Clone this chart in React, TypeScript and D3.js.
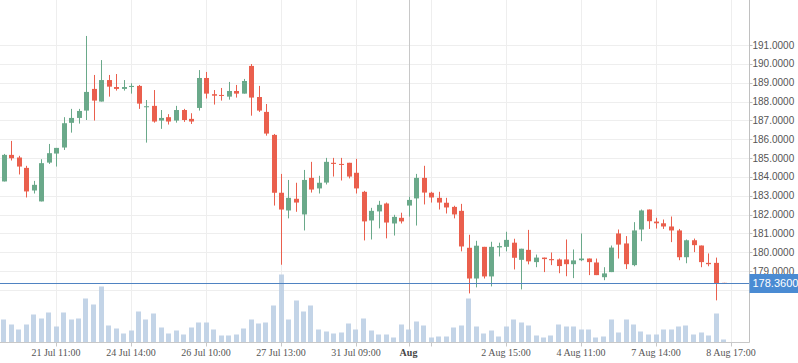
import React, { useEffect, useRef } from "react";
import * as d3 from "d3";

// OHLC per candle (index based, weekends skipped)
const opens = [
  183.76, 185.17, 185.03, 184.48, 183.28, 182.70, 184.76, 185.24, 185.56, 186.87,
  187.13, 187.52, 188.67, 188.00, 189.14, 188.77, 188.67, 188.77, 188.83, 187.71,
  187.77, 186.99, 187.17, 186.99, 187.55, 187.08, 187.66, 189.25, 188.39, 188.35,
  188.26, 188.56, 188.42, 189.89, 188.24, 187.45, 186.23, 183.16, 182.22, 182.84,
  182.01, 183.95, 183.39, 183.70, 184.75, 184.69, 184.75, 184.22, 183.21, 181.69,
  182.17, 182.59, 181.53, 181.83, 182.48, 182.86, 183.95, 183.16, 182.89, 182.63,
  182.41, 182.20, 180.24, 178.61, 180.29, 178.72, 180.26, 180.29, 180.51, 179.60,
  180.13, 179.48, 179.72, 179.64, 179.62, 179.62, 179.37, 179.58, 179.67, 179.46,
  178.68, 178.95, 181.00, 180.47, 179.32, 181.21, 182.27, 181.63, 181.54, 181.37,
  181.16, 179.74, 180.64, 180.36, 179.44, 179.44, 178.38,
];
const highs = [
  185.22, 185.91, 185.12, 184.59, 183.79, 184.94, 185.75, 185.54, 187.17, 187.61,
  187.61, 191.48, 189.41, 190.20, 189.41, 189.46, 189.14, 188.97, 188.88, 188.08,
  188.61, 187.55, 187.33, 187.77, 187.61, 187.38, 189.67, 189.57, 188.61, 188.72,
  189.04, 188.88, 189.20, 189.99, 188.83, 187.87, 186.28, 184.16, 183.84, 183.69,
  184.37, 184.80, 184.06, 185.01, 185.01, 185.01, 184.75, 184.96, 183.26, 182.36,
  182.73, 182.64, 181.99, 182.10, 182.94, 184.16, 184.59, 183.21, 183.21, 182.89,
  182.47, 182.57, 180.93, 180.61, 180.29, 180.56, 180.51, 181.09, 180.72, 180.19,
  181.19, 179.88, 179.72, 179.99, 179.67, 180.68, 180.15, 181.00, 179.67, 179.67,
  179.21, 180.36, 181.21, 180.86, 181.60, 182.27, 182.27, 181.83, 181.74, 181.90,
  181.24, 180.68, 180.73, 180.36, 179.94, 179.72, 178.38,
];
const lows = [
  183.76, 184.87, 184.13, 182.91, 183.12, 182.70, 184.69, 184.55, 185.43, 186.35,
  186.83, 187.02, 186.99, 188.00, 188.26, 188.58, 188.58, 188.42, 187.61, 185.82,
  186.88, 186.55, 186.78, 186.88, 186.92, 186.81, 187.52, 188.16, 187.84, 188.05,
  188.10, 188.21, 188.42, 187.25, 187.45, 186.19, 182.48, 179.34, 181.80, 182.15,
  181.16, 183.17, 183.12, 183.60, 184.02, 183.81, 183.92, 183.12, 180.63, 180.68,
  181.27, 180.74, 180.89, 181.53, 181.90, 181.42, 182.54, 182.64, 182.27, 182.06,
  181.80, 180.05, 177.82, 178.14, 178.61, 178.19, 179.78, 180.05, 179.09, 178.03,
  179.36, 179.21, 178.95, 179.32, 178.89, 178.73, 178.63, 179.53, 178.79, 178.79,
  178.52, 178.95, 179.67, 179.11, 179.26, 180.59, 181.24, 181.26, 181.24, 180.54,
  179.58, 179.42, 180.01, 179.21, 179.26, 177.45, 178.36,
];
const closes = [
  185.17, 184.99, 184.55, 183.23, 183.58, 184.73, 185.26, 185.54, 186.85, 187.13,
  187.50, 188.51, 188.05, 189.14, 188.79, 188.67, 188.77, 188.83, 187.89, 187.75,
  186.94, 187.13, 186.94, 187.55, 187.02, 186.94, 189.25, 188.42, 188.31, 188.30,
  188.56, 188.42, 189.09, 188.21, 187.52, 186.30, 183.16, 182.27, 182.89, 182.64,
  183.84, 183.33, 183.69, 184.80, 184.69, 184.66, 184.02, 183.39, 181.64, 182.20,
  182.52, 181.58, 181.88, 181.64, 182.78, 183.95, 183.17, 182.91, 182.64, 182.38,
  182.01, 180.31, 178.61, 180.35, 178.72, 180.29, 180.33, 180.66, 179.71, 180.19,
  179.52, 179.72, 179.64, 179.58, 179.27, 179.37, 179.57, 179.67, 179.48, 178.79,
  178.88, 180.25, 180.41, 179.37, 181.16, 182.22, 181.65, 181.54, 181.37, 181.16,
  179.74, 180.64, 180.38, 179.48, 179.37, 178.33, 178.36,
];
const volumes = [
  23, 18, 13, 18, 28, 24, 30, 16, 30, 23,
  24, 44, 38, 56, 17, 14, 9, 12, 31, 23,
  29, 15, 9, 12, 8, 15, 20, 20, 13, 7,
  7, 8, 14, 23, 19, 20, 37, 68, 23, 42,
  31, 37, 13, 11, 9, 10, 19, 13, 24, 12,
  8, 8, 5, 18, 13, 21, 17, 5, 6, 6,
  15, 17, 44, 16, 9, 12, 6, 16, 23, 20,
  17, 7, 5, 7, 18, 16, 16, 13, 13, 5,
  6, 23, 10, 23, 18, 11, 8, 8, 13, 13,
  16, 17, 8, 10, 7, 29, 3,
];

// x axis: grid every 10 candles, labels at the candle index
const gridIdx = [7, 17, 27, 37, 47, 57, 67, 77, 87, 97];
const labelIdx = [7, 17, 27, 37, 47, 67, 77, 87, 97];
const labelText = ["21 Jul 11:00", "24 Jul 14:00", "26 Jul 10:00", "27 Jul 13:00", "31 Jul 09:00",
  "2 Aug 15:00", "4 Aug 11:00", "7 Aug 14:00", "8 Aug 17:00"];
const monthIdx = 54;
const monthText = "Aug";

const priceTicks = d3.range(179, 192);
const gridPrices = d3.range(178, 192);
const lastPrice = 178.36;

const W = 798;
const H = 363;
const axisX = 749.5;
const axisY = 342.5;
const UP = "#6aa98a";
const DOWN = "#ea5f4d";

function CandleChart() {
  const ref = useRef<SVGSVGElement>(null);

  useEffect(() => {
    const svg = d3.select(ref.current);
    svg.selectAll("*").remove();

    const x = d3.scaleLinear().domain([0, 96]).range([3.5, 723.5]);
    const y = d3.scaleLinear().domain([178, 191]).range([290, 45]);
    const yVol = d3.scaleLinear().domain([0, 100]).range([axisY, axisY - 100]);

    // grid
    svg.append("g").selectAll("line").data(gridPrices).enter().append("line")
      .attr("x1", 0).attr("x2", axisX)
      .attr("y1", d => Math.round(y(d)) + 0.5).attr("y2", d => Math.round(y(d)) + 0.5)
      .attr("stroke", "#eeeeee");
    svg.append("g").selectAll("line").data(gridIdx).enter().append("line")
      .attr("x1", d => Math.round(x(d)) + 0.5).attr("x2", d => Math.round(x(d)) + 0.5)
      .attr("y1", 0).attr("y2", axisY)
      .attr("stroke", "#eeeeee");

    // month separator
    svg.append("line")
      .attr("x1", Math.round(x(monthIdx)) + 0.5).attr("x2", Math.round(x(monthIdx)) + 0.5)
      .attr("y1", 0).attr("y2", axisY + 4)
      .attr("stroke", "#c8c8c8");

    // volume
    svg.append("g").selectAll("rect").data(volumes).enter().append("rect")
      .attr("x", (d, i) => Math.round(x(i) - 2.5))
      .attr("y", d => yVol(d))
      .attr("width", 5)
      .attr("height", d => axisY - yVol(d))
      .attr("fill", "#b9cde3")
      .attr("opacity", 0.85);

    // candles
    const idx = d3.range(opens.length);
    const g = svg.append("g");
    g.selectAll("line").data(idx).enter().append("line")
      .attr("x1", i => Math.round(x(i)) + 0.5).attr("x2", i => Math.round(x(i)) + 0.5)
      .attr("y1", i => y(highs[i])).attr("y2", i => y(lows[i]))
      .attr("stroke", i => (closes[i] >= opens[i] ? UP : DOWN));
    g.selectAll("rect").data(idx).enter().append("rect")
      .attr("x", i => Math.round(x(i)) - 2)
      .attr("width", 5)
      .attr("y", i => y(Math.max(opens[i], closes[i])))
      .attr("height", i => Math.max(1, Math.abs(y(opens[i]) - y(closes[i]))))
      .attr("fill", i => (closes[i] >= opens[i] ? UP : DOWN));

    // last price line
    const py = Math.round(y(lastPrice)) + 0.5;
    svg.append("line")
      .attr("x1", 0).attr("x2", axisX).attr("y1", py).attr("y2", py)
      .attr("stroke", "#4f83c2");

    // bottom axis
    svg.append("line")
      .attr("x1", 0).attr("x2", axisX).attr("y1", axisY).attr("y2", axisY)
      .attr("stroke", "#c8c8c8");
    svg.append("g").selectAll("line").data(gridIdx).enter().append("line")
      .attr("x1", d => Math.round(x(d)) + 0.5).attr("x2", d => Math.round(x(d)) + 0.5)
      .attr("y1", axisY).attr("y2", axisY + 4)
      .attr("stroke", "#c8c8c8");
    svg.append("g").selectAll("text").data(labelIdx).enter().append("text")
      .attr("x", d => x(d))
      .attr("y", 356)
      .attr("text-anchor", "middle")
      .style("font-family", "'Liberation Serif', serif")
      .style("font-size", "10px")
      .attr("fill", "#555")
      .text((d, i) => labelText[i]);
    svg.append("text")
      .attr("x", x(monthIdx)).attr("y", 356)
      .attr("text-anchor", "middle")
      .style("font-family", "'Liberation Serif', serif")
      .style("font-size", "10px")
      .style("font-weight", "bold")
      .attr("fill", "#444")
      .text(monthText);

    // right axis
    svg.append("line")
      .attr("x1", axisX).attr("x2", axisX).attr("y1", 0).attr("y2", axisY)
      .attr("stroke", "#c0c0c0");
    svg.append("g").selectAll("line").data(priceTicks).enter().append("line")
      .attr("x1", axisX).attr("x2", axisX + 3)
      .attr("y1", d => Math.round(y(d)) + 0.5).attr("y2", d => Math.round(y(d)) + 0.5)
      .attr("stroke", "#c0c0c0");
    svg.append("g").selectAll("text").data(priceTicks).enter().append("text")
      .attr("x", axisX + 3)
      .attr("y", d => y(d))
      .attr("dy", "0.35em")
      .style("font-family", "'Liberation Sans', sans-serif")
      .style("font-size", "10px")
      .attr("fill", "#555")
      .text(d => d3.format(".4f")(d));

    // last price badge
    svg.append("rect")
      .attr("x", axisX).attr("y", py - 9.5)
      .attr("width", W - axisX).attr("height", 19)
      .attr("fill", "#4a8bd3");
    svg.append("text")
      .attr("x", axisX + 3).attr("y", py)
      .attr("dy", "0.35em")
      .style("font-family", "'Liberation Sans', sans-serif")
      .style("font-size", "11px")
      .attr("fill", "#fff")
      .text(d3.format(".4f")(lastPrice));
  }, []);

  return <svg ref={ref} width={W} height={H} style={{ position: "absolute", left: 0, top: 0, background: "#fff" }} />;
}

export default function App() {
  return <CandleChart />;
}
